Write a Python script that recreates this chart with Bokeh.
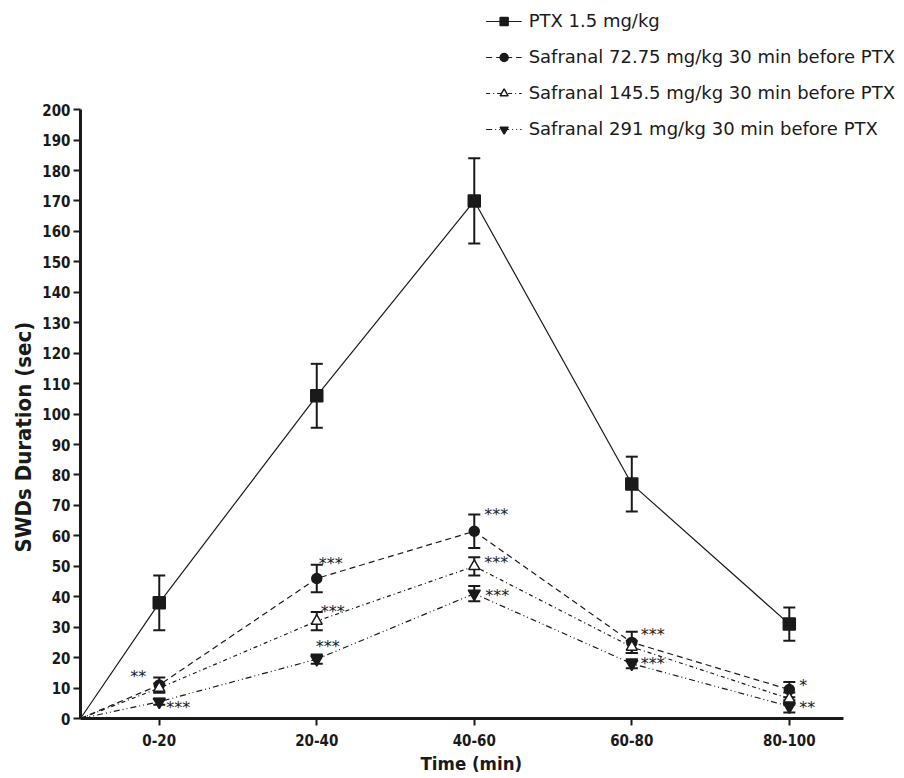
from bokeh.plotting import figure
from bokeh.models import (ColumnDataSource, Whisker, TeeHead, FixedTicker, Legend,
                          LegendItem, Title, Range1d)
from bokeh.embed import file_html
from bokeh.resources import INLINE
from bokeh.core.properties import value

# ---------------- data ----------------
categories = ["0-20", "20-40", "40-60", "60-80", "80-100"]
series_names = ["PTX 1.5 mg/kg",
                "Safranal 72.75 mg/kg 30 min before PTX",
                "Safranal 145.5 mg/kg 30 min before PTX",
                "Safranal 291 mg/kg 30 min before PTX"]
start_value = 0  # every curve starts at 0 s at time 0

ptx_mean = [38, 106, 170, 77, 31]
ptx_err = [9, 10.5, 14, 9, 5.5]
s72_mean = [11, 46, 61.5, 25, 9.5]
s72_err = [2.5, 4.5, 5.5, 3.5, 2.5]
s145_mean = [10, 32, 50, 23.5, 6.5]
s145_err = [1.5, 3, 3, 2, 2]
s291_mean = [5.5, 19.5, 41, 18, 4]
s291_err = [1, 1.5, 2.5, 1.5, 2]

ptx_stars = ["", "", "", "", ""]
s72_stars = ["**", "***", "***", "***", "*"]
s145_stars = ["", "***", "***", "", ""]
s291_stars = ["***", "***", "***", "***", "**"]

y_ticks = list(range(0, 201, 10))

# ---------------- styling ----------------
X_START, X_END, X_AXIS_END = -0.5, 4.706, 4.344
Y_END = 234.2
TICK_FONT = "DejaVu Sans Condensed"
ink = "#1a1a1a"

# star offsets (pixels) per series
ptx_off = [(0, 0)] * 5
s72_off = [(-29, -9), (2, -15), (10, -17), (9, -8), (10, -4)]
s145_off = [(0, 0), (4, -10), (10, -4), (0, 0), (0, 0)]
s291_off = [(7, 6), (-1, -13), (11, 2), (9, 0), (10, 1)]

series = [
    dict(mean=ptx_mean, err=ptx_err, stars=ptx_stars, off=ptx_off, dash="solid",
         marker="square", size=12, fill=ink),
    dict(mean=s72_mean, err=s72_err, stars=s72_stars, off=s72_off, dash="6 4",
         marker="circle", size=10, fill=ink),
    dict(mean=s145_mean, err=s145_err, stars=s145_stars, off=s145_off, dash="4 3 1 3",
         marker="triangle", size=11, fill="white"),
    dict(mean=s291_mean, err=s291_err, stars=s291_stars, off=s291_off, dash="6 3 1 3 1 3",
         marker="inverted_triangle", size=12, fill=ink),
]

p = figure(width=904, height=778, output_backend="svg", toolbar_location=None,
           x_range=Range1d(X_START, X_END), y_range=Range1d(0, Y_END),
           min_border_left=80, min_border_right=4, min_border_top=5, min_border_bottom=60,
           background_fill_color="white", border_fill_color="white")
p.outline_line_color = None
p.xgrid.grid_line_color = None
p.ygrid.grid_line_color = None

xpos = list(range(len(categories)))
items = []
for s, name in zip(series, series_names):
    lx = [X_START] + xpos
    ly = [start_value] + s["mean"]
    lr = p.line(lx, ly, line_color=ink, line_width=1.2, line_dash=s["dash"])
    src = ColumnDataSource(dict(
        x=xpos, y=s["mean"],
        upper=[m + e for m, e in zip(s["mean"], s["err"])],
        lower=[m - e for m, e in zip(s["mean"], s["err"])]))
    w = Whisker(source=src, base="x", upper="upper", lower="lower", dimension="height",
                line_color=ink, line_width=2,
                upper_head=TeeHead(size=12, line_width=2, line_color=ink),
                lower_head=TeeHead(size=12, line_width=2, line_color=ink))
    p.add_layout(w)
    sr = p.scatter("x", "y", source=src, marker=s["marker"], size=s["size"],
                   fill_color=s["fill"], line_color=ink, line_width=1.5)
    items.append(LegendItem(label=name, renderers=[lr, sr]))

    tx, ty, tt, dx, dy = [], [], [], [], []
    for i, st in enumerate(s["stars"]):
        if st:
            tx.append(i); ty.append(s["mean"][i]); tt.append(st)
            dx.append(s["off"][i][0]); dy.append(s["off"][i][1])
    if tt:
        tsrc = ColumnDataSource(dict(x=tx, y=ty, text=tt, dx=dx, dy=dy))
        p.text("x", "y", text="text", x_offset="dx", y_offset="dy", source=tsrc,
               text_font=value("DejaVu Sans"), text_font_size="16px",
               text_color=ink, text_align="left", text_baseline="middle")

legend = Legend(items=items, location="top_right", margin=0, padding=5,
                background_fill_alpha=0, border_line_alpha=0,
                label_text_font="DejaVu Sans", label_text_font_size="18px",
                label_text_color=ink, glyph_width=36, glyph_height=20,
                label_height=20, label_standoff=7, spacing=15)
p.add_layout(legend)

# axes
xa = p.xaxis[0]
xa.ticker = FixedTicker(ticks=xpos)
xa.major_label_overrides = {i: c for i, c in enumerate(categories)}
xa.bounds = (X_START, X_AXIS_END)
ya = p.yaxis[0]
ya.ticker = FixedTicker(ticks=y_ticks)
ya.bounds = (0, 200)
for ax in (xa, ya):
    ax.axis_line_width = 3
    ax.axis_line_color = ink
    ax.major_tick_line_width = 2
    ax.major_tick_line_color = ink
    ax.major_tick_out = 7
    ax.major_tick_in = 0
    ax.minor_tick_line_color = None
    ax.major_label_text_font = TICK_FONT
    ax.major_label_text_font_style = "bold"
    ax.major_label_text_font_size = "15px"
    ax.major_label_text_color = ink
xa.major_label_standoff = 8
ya.major_label_standoff = 3

# axis titles (side titles, anchored at their start so they sit where the reference has them)
p.add_layout(Title(text="SWDs Duration (sec)", align="left", offset=166, standoff=8,
                   text_font=TICK_FONT, text_font_style="bold", text_font_size="22px",
                   text_color=ink), "left")
p.add_layout(Title(text="Time (min)", align="left", offset=340, standoff=4,
                   text_font=TICK_FONT, text_font_style="bold", text_font_size="18.5px",
                   text_color=ink), "below")

open("out.html", "w").write(file_html(p, INLINE))
